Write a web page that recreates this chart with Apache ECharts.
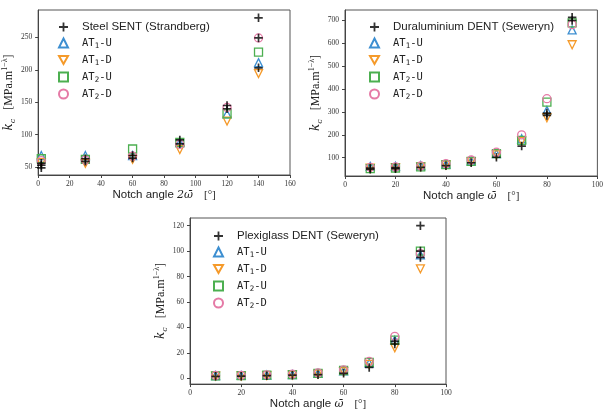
<!DOCTYPE html>
<html>
<head>
<meta charset="utf-8">
<script src="https://cdn.jsdelivr.net/npm/echarts@6/dist/echarts.min.js"></script>
<style>
  html, body { margin: 0; padding: 0; background: #fff; }
  #chart { width: 606px; height: 411px; }
</style>
</head>
<body>
<div id="chart"></div>
<script>
// --- data ---
var steelAngles = [2, 30, 60, 90, 120, 140];
var steelExp = [[2, 49], [2, 53], [2, 56], [30, 59], [30, 63], [60, 64], [60, 68],
  [90, 86], [90, 92], [120, 140], [120, 145], [140, 203], [140, 249], [140, 280]];
var steelAT1U = [68, 68, 68, 88, 132, 211];
var steelAT1D = [57, 56, 62, 77, 121, 194];
var steelAT2U = [63, 62, 78, 88, 132, 227];
var steelAT2D = [60, 61, 67, 85, 142, 249];

var duralAngles = [10, 20, 30, 40, 50, 60, 70, 80, 90];
var duralExp = [[10, 50], [10, 55], [20, 52], [20, 57], [30, 58], [40, 65], [50, 78],
  [60, 102], [70, 151], [80, 285], [80, 295], [90, 700], [90, 714]];
var duralAT1U = [62, 63, 66, 72, 86, 118, 183, 307, 659];
var duralAT1D = [54, 56, 60, 68, 82, 112, 172, 275, 594];
var duralAT2U = [52, 55, 60, 70, 84, 118, 176, 343, 690];
var duralAT2D = [58, 60, 64, 74, 90, 124, 200, 358, 682];

var plexiAngles = [10, 20, 30, 40, 50, 60, 70, 80, 90];
var plexiExp = [[10, 1.6], [20, 1.7], [30, 2.1], [40, 2.5], [50, 2.9], [60, 4.0],
  [70, 8.6], [80, 27], [80, 29], [90, 95], [90, 100], [90, 120]];
var plexiAT1U = [2.2, 2.3, 2.6, 3, 4, 6, 12, 30, 97];
var plexiAT1D = [1.8, 1.9, 2.2, 2.6, 3.4, 5.2, 11, 24, 86];
var plexiAT2U = [2, 2.1, 2.5, 3, 4, 6.2, 12.5, 30, 100];
var plexiAT2D = [2.3, 2.4, 2.8, 3.3, 4.3, 6.7, 13.3, 33, 98];

var xTicks1 = [0, 20, 40, 60, 80, 100, 120, 140, 160];
var yTicks1 = [50, 100, 150, 200, 250];
var xTicks2 = [0, 20, 40, 60, 80, 100];
var yTicks2 = [100, 200, 300, 400, 500, 600, 700];
var xTicks3 = [0, 20, 40, 60, 80, 100];
var yTicks3 = [0, 20, 40, 60, 80, 100, 120];

var expNames = ["Steel SENT (Strandberg)", "Duraluminium DENT (Seweryn)", "Plexiglass DENT (Seweryn)"];
var atNames = ["AT1-U", "AT1-D", "AT2-U", "AT2-D"];

// --- styles ---
var colBlue = "#3d8fd1", colOrange = "#f59a2a", colGreen = "#4caf50", colPink = "#e57aa6";
var plusPath = "path://M4,0H6V4H10V6H6V10H4V6H0V4H4Z";
var downTri = "path://M0,0L10,0L5,9Z";
var tickFont = { fontFamily: "Liberation Serif", fontSize: 7.5, color: "#333" };

var chart = echarts.init(document.getElementById("chart"));

function pairs(xs, ys) {
  return xs.map(function (x, i) { return [x, ys[i]]; });
}

function xAxisOf(idx, max, ticks, sym) {
  return {
    type: "value", gridIndex: idx, min: 0, max: max,
    splitLine: { show: false },
    axisLine: { show: true, onZero: false, lineStyle: { color: "#444", width: 1 } },
    axisTick: { show: true, length: 3, inside: false, customValues: ticks, lineStyle: { color: "#444" } },
    axisLabel: Object.assign({ customValues: ticks, margin: 5 }, tickFont),
    name: "{t|Notch angle }{m|" + sym + "}{b|    [°]}",
    nameLocation: "middle", nameGap: 13,
    nameTextStyle: {
      rich: {
        t: { fontFamily: "Liberation Sans", fontSize: 11.5, color: "#222" },
        m: { fontFamily: "DejaVu Serif", fontStyle: "italic", fontSize: 11, color: "#222" },
        b: { fontFamily: "Liberation Serif", fontSize: 11, color: "#222" }
      }
    }
  };
}

function yAxisOf(idx, min, max, ticks, gap) {
  return {
    type: "value", gridIndex: idx, min: min, max: max,
    splitLine: { show: false },
    axisLine: { show: true, onZero: false, lineStyle: { color: "#444", width: 1 } },
    axisTick: { show: true, length: 3, customValues: ticks, lineStyle: { color: "#444" } },
    axisLabel: Object.assign({ customValues: ticks, margin: 6 }, tickFont),
    name: "{k|k}{s|c}{b|   [MPa.m}{p|1−λ}{b|]}",
    nameLocation: "middle", nameRotate: 90, nameGap: gap,
    nameTextStyle: {
      rich: {
        k: { fontFamily: "DejaVu Serif", fontStyle: "italic", fontSize: 12, lineHeight: 16, color: "#222" },
        s: { fontFamily: "DejaVu Serif", fontStyle: "italic", fontSize: 8, lineHeight: 9, verticalAlign: "bottom", color: "#222" },
        b: { fontFamily: "Liberation Serif", fontSize: 12, lineHeight: 16, color: "#222" },
        p: { fontFamily: "Liberation Serif", fontSize: 8, lineHeight: 9, verticalAlign: "top", color: "#222" }
      }
    }
  };
}

function legendOf(idx, left, top) {
  return {
    show: true, orient: "vertical", left: left, top: top,
    selectedMode: false, itemWidth: 9, itemHeight: 9, itemGap: 4.5,
    data: [expNames[idx]].concat(atNames),
    formatter: function (name) {
      if (name.indexOf("AT") === 0) {
        return "{m|AT}{sub|" + name.charAt(2) + "}{m|" + name.slice(3) + "}";
      }
      return "{s|" + name + "}";
    },
    textStyle: {
      padding: [0, 0, 0, 9],
      rich: {
        s: { fontFamily: "Liberation Sans", fontSize: 11.5, lineHeight: 14, color: "#222" },
        m: { fontFamily: "DejaVu Sans Mono", fontSize: 10.5, lineHeight: 14, color: "#222" },
        sub: { fontFamily: "DejaVu Sans Mono", fontSize: 7.5, lineHeight: 7, verticalAlign: "bottom", color: "#222" }
      }
    }
  };
}

function hollow(name, idx, data, symbol, color, size) {
  return {
    type: "scatter", name: name, xAxisIndex: idx, yAxisIndex: idx,
    data: data, symbol: symbol, symbolSize: size,
    itemStyle: { color: "rgba(255,255,255,0)", borderColor: color, borderWidth: 1.3, opacity: 1 },
    emphasis: { disabled: true }, z: 2
  };
}

function seriesOf(idx, exp, xs, a1u, a1d, a2u, a2d) {
  return [
    hollow("AT1-U", idx, pairs(xs, a1u), "triangle", colBlue, 8),
    hollow("AT1-D", idx, pairs(xs, a1d), downTri, colOrange, 8),
    hollow("AT2-U", idx, pairs(xs, a2u), "rect", colGreen, 8),
    hollow("AT2-D", idx, pairs(xs, a2d), "circle", colPink, 8),
    {
      type: "scatter", name: expNames[idx], xAxisIndex: idx, yAxisIndex: idx,
      data: exp, symbol: plusPath, symbolSize: 8.5,
      itemStyle: { color: "#000" }, emphasis: { disabled: true }, z: 5
    }
  ];
}

var gridStyle = { show: true, borderColor: "#555", borderWidth: 1, backgroundColor: "transparent" };

chart.setOption({
  backgroundColor: "#fff",
  animation: false,
  grid: [
    Object.assign({ left: 34, top: 10, width: 256, height: 165 }, gridStyle),
    Object.assign({ left: 345, top: 10, width: 257, height: 166 }, gridStyle),
    Object.assign({ left: 190, top: 218, width: 256, height: 167 }, gridStyle)
  ],
  xAxis: [
    xAxisOf(0, 160, xTicks1, "2ω̄"),
    xAxisOf(1, 100, xTicks2, "ω̄"),
    xAxisOf(2, 100, xTicks3, "ω̄")
  ],
  yAxis: [
    yAxisOf(0, 38, 292, yTicks1, 16),
    yAxisOf(1, 20, 746, yTicks2, 18),
    yAxisOf(2, -4.5, 126, yTicks3, 16)
  ],
  legend: [
    legendOf(0, 53, 16),
    legendOf(1, 364, 16),
    legendOf(2, 208, 225)
  ],
  series: []
    .concat(seriesOf(0, steelExp, steelAngles, steelAT1U, steelAT1D, steelAT2U, steelAT2D))
    .concat(seriesOf(1, duralExp, duralAngles, duralAT1U, duralAT1D, duralAT2U, duralAT2D))
    .concat(seriesOf(2, plexiExp, plexiAngles, plexiAT1U, plexiAT1D, plexiAT2U, plexiAT2D))
});
</script>
</body>
</html>
